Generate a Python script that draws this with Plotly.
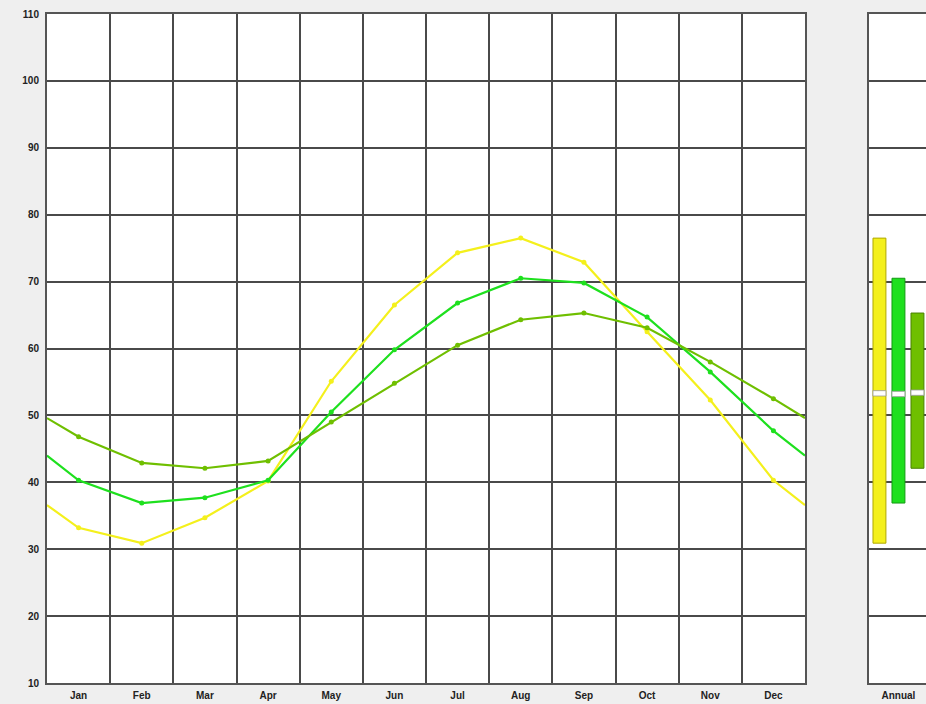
import plotly.graph_objects as go

months = ["Jan", "Feb", "Mar", "Apr", "May", "Jun", "Jul", "Aug", "Sep", "Oct", "Nov", "Dec"]
yellow_vals = [33.2, 30.9, 34.7, 40.2, 55.1, 66.5, 74.3, 76.5, 72.9, 62.5, 52.3, 40.3]
green_vals = [40.3, 36.9, 37.7, 40.3, 50.5, 59.8, 66.8, 70.5, 69.8, 64.7, 56.5, 47.7]
olive_vals = [46.8, 42.9, 42.1, 43.2, 49.0, 54.8, 60.5, 64.3, 65.3, 63.1, 58.0, 52.5]
# values at the year wrap (left/right edges)
yellow_edge = 36.6
green_edge = 44.0
olive_edge = 49.6
# annual summary: min, max, mean
annual_min = [30.9, 36.9, 42.1]
annual_max = [76.5, 70.5, 65.3]
annual_mean = [53.3, 53.2, 53.4]

colors = ["#f4f01c", "#1ee01e", "#6fbf00"]
edge_colors = ["#b0a800", "#129a12", "#4a8200"]
series = [(yellow_vals, yellow_edge), (green_vals, green_edge), (olive_vals, olive_edge)]

W, H = 926, 704
ml, mr, mt, mb = 47, 0, 14, 21
pw = W - ml - mr
left_dom = [0, (805 - ml) / pw]
right_dom = [(869 - ml) / pw, 1]

fig = go.Figure()
centers = [i + 0.5 for i in range(12)]
for (vals, edge), c in zip(series, colors):
    xs = [0] + centers + [12]
    ys = [edge] + vals + [edge]
    fig.add_trace(go.Scatter(x=xs, y=ys, mode="lines", line=dict(color=c, width=2.2),
                             xaxis="x", yaxis="y", showlegend=False, hoverinfo="skip"))
    fig.add_trace(go.Scatter(x=centers, y=vals, mode="markers",
                             marker=dict(color=c, size=5, line=dict(width=0)),
                             xaxis="x", yaxis="y", showlegend=False))

for i in range(3):
    fig.add_trace(go.Bar(x=[i], y=[annual_max[i] - annual_min[i]], base=[annual_min[i]], width=0.68,
                         marker=dict(color=colors[i], line=dict(color=edge_colors[i], width=1)),
                         xaxis="x2", yaxis="y2", showlegend=False))
    fig.add_trace(go.Bar(x=[i], y=[0.8], base=[annual_mean[i] - 0.4], width=0.68,
                         marker=dict(color="white", line=dict(color="#999999", width=0.8)),
                         xaxis="x2", yaxis="y2", showlegend=False))

grid = dict(showgrid=True, gridcolor="#4a4a4a", gridwidth=1.6)
line = dict(showline=True, linecolor="#555555", linewidth=2, mirror=True)
tfont = dict(family="Liberation Sans, Arial, sans-serif", size=10, color="#222222", weight="bold")

fig.update_layout(
    width=W, height=H,
    margin=dict(l=ml, r=mr, t=mt, b=mb),
    paper_bgcolor="#efefef", plot_bgcolor="white",
    barmode="overlay",
    xaxis=dict(domain=left_dom, range=[0, 12], tickmode="array", tickvals=centers, ticktext=months,
               showgrid=False, zeroline=False, ticks="", tickfont=tfont, ticklabelstandoff=2,
               minor=dict(tickmode="array", tickvals=list(range(1, 12)), showgrid=True,
                          gridcolor="#4a4a4a", gridwidth=1.6, ticks=""),
               **line),
    yaxis=dict(range=[10, 110], tickmode="array", tickvals=list(range(10, 111, 10)),
               zeroline=False, ticks="", tickfont=tfont, ticklabelstandoff=4, **grid, **line),
    xaxis2=dict(domain=right_dom, anchor="y2", range=[-0.55, 2.45], tickmode="array",
                tickvals=[1], ticktext=["Annual"], showgrid=False, zeroline=False, ticks="",
                tickfont=tfont, ticklabelstandoff=2,
                showline=True, linecolor="#555555", linewidth=2, mirror=True),
    yaxis2=dict(anchor="x2", range=[10, 110], tickmode="array", tickvals=list(range(10, 111, 10)),
                showticklabels=False, zeroline=False, ticks="", **grid,
                showline=True, linecolor="#555555", linewidth=2, mirror=False),
)

fig.write_html("out.html", config={"displayModeBar": False},
               post_script="document.body.style.margin='0';document.body.style.overflow='hidden';")
